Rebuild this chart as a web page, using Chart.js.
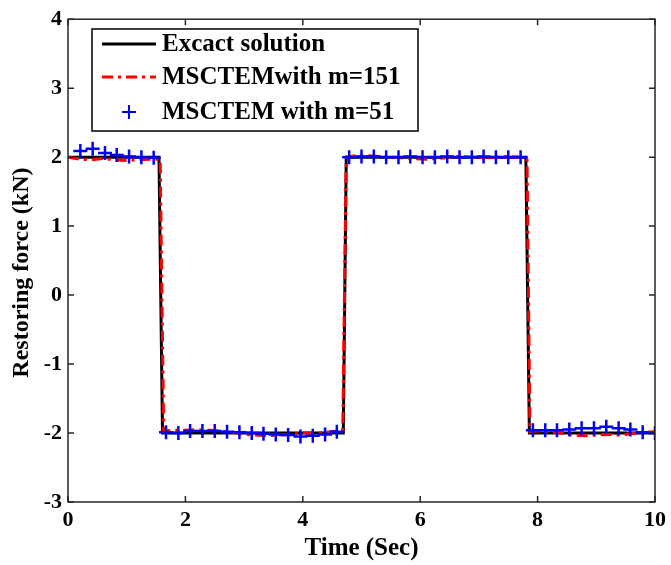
<!DOCTYPE html>
<html>
<head>
<meta charset="utf-8">
<script src="https://cdn.jsdelivr.net/npm/chart.js@4"></script>
<style>
  body { margin: 0; background: #fff; }
  #wrap { width: 671px; height: 565px; }
</style>
</head>
<body>
<div id="wrap"><canvas id="forceChart" width="671" height="565"></canvas></div>
<script>
// exact solution (square wave)
const exactTime = [0, 1.55, 1.61, 4.69, 4.74, 7.80, 7.86, 10];
const exactForce = [2, 2, -2, -2, 2, 2, -2, -2];

// MSCTEM m=151 (dash-dot red)
const redTime = [0, 0.2, 0.4, 0.6, 0.8, 1.0, 1.2, 1.4, 1.57, 1.63, 1.8, 2.0, 2.2, 2.4, 2.6, 2.8, 3.0, 3.2, 3.4, 3.6, 3.8, 4.0, 4.2, 4.4, 4.6, 4.68, 4.74,
  4.9, 5.1, 5.3, 5.5, 5.7, 5.9, 6.1, 6.3, 6.5, 6.7, 6.9, 7.1, 7.3, 7.5, 7.7, 7.82, 7.87, 8.0, 8.2, 8.4, 8.6, 8.8, 9.0, 9.2, 9.4, 9.6, 9.8, 10];
const redForce = [2.0, 1.97, 1.96, 1.98, 1.96, 1.95, 1.96, 1.97, 1.97, -1.97, -1.96, -1.96, -1.95, -1.96, -1.97, -1.99, -2.02, -2.03, -2.04, -2.03, -2.02, -2.0, -2.0, -1.99, -1.97, -1.97, 2.0,
  2.02, 2.02, 2.01, 2.0, 1.99, 1.98, 1.97, 1.98, 2.0, 2.01, 2.0, 1.99, 2.0, 2.01, 2.0, 1.99, -1.98, -1.97, -1.98, -2.0, -2.03, -2.04, -2.03, -2.02, -2.03, -2.01, -1.99, -1.98];

// MSCTEM m=51 (blue plus markers)
const blueTime = [0.21, 0.42, 0.63, 0.83, 1.04, 1.25, 1.46, 1.67, 1.88, 2.08, 2.29, 2.5, 2.71, 2.92, 3.13, 3.33, 3.54, 3.75, 3.96, 4.17, 4.38, 4.58,
  4.79, 5.0, 5.21, 5.42, 5.63, 5.83, 6.04, 6.25, 6.46, 6.67, 6.88, 7.08, 7.29, 7.5, 7.71,
  7.92, 8.13, 8.33, 8.54, 8.75, 8.96, 9.17, 9.38, 9.58, 9.79, 10.0];
const blueForce = [2.09, 2.12, 2.06, 2.03, 2.01, 2.0, 1.99, -1.99, -2.0, -1.97, -1.97, -1.97, -1.98, -1.99, -2.0, -2.01, -2.02, -2.03, -2.05, -2.04, -2.02, -1.98,
  2.0, 2.01, 2.01, 2.0, 2.0, 2.01, 2.0, 2.0, 2.01, 2.0, 2.0, 2.01, 2.0, 2.0, 2.0,
  -1.96, -1.96, -1.96, -1.95, -1.93, -1.93, -1.91, -1.93, -1.95, -1.99, -2.0];

const xTicks = [0, 2, 4, 6, 8, 10];
const yTicks = [-3, -2, -1, 0, 1, 2, 3, 4];

const pts = (xs, ys) => xs.map((v, i) => ({ x: v, y: ys[i] }));
const FONT = 'Liberation Serif, Times New Roman, serif';
Chart.defaults.font.family = FONT;
Chart.defaults.color = '#000';

// MATLAB-like box, inward ticks and the legend inside the axes
const matlabBox = {
  id: 'matlabBox',
  afterDatasetsDraw(chart) {
    const { ctx, chartArea: a, scales: { x, y } } = chart;
    ctx.save();
    ctx.strokeStyle = '#262626';
    ctx.lineWidth = 1.5;
    ctx.strokeRect(a.left, a.top, a.right - a.left, a.bottom - a.top);
    ctx.beginPath();
    xTicks.forEach(v => {
      const px = x.getPixelForValue(v);
      ctx.moveTo(px, a.bottom); ctx.lineTo(px, a.bottom - 6);
      ctx.moveTo(px, a.top); ctx.lineTo(px, a.top + 6);
    });
    yTicks.forEach(v => {
      const py = y.getPixelForValue(v);
      ctx.moveTo(a.left, py); ctx.lineTo(a.left + 6, py);
      ctx.moveTo(a.right, py); ctx.lineTo(a.right - 6, py);
    });
    ctx.stroke();

    // legend
    const lx = 92, ly = 29, lw = 326, lh = 102;
    ctx.fillStyle = '#fff';
    ctx.fillRect(lx, ly, lw, lh);
    ctx.strokeStyle = '#000';
    ctx.lineWidth = 1.5;
    ctx.strokeRect(lx, ly, lw, lh);
    const rows = [44, 77, 112];
    const ds = chart.data.datasets;
    ctx.font = 'bold 25px ' + FONT;
    ctx.textBaseline = 'middle';
    ds.forEach((d, i) => {
      const ry = rows[i];
      ctx.save();
      if (d.showLine === false) {
        ctx.strokeStyle = d.borderColor;
        ctx.lineWidth = 2;
        ctx.beginPath();
        ctx.moveTo(122, ry); ctx.lineTo(136, ry);
        ctx.moveTo(129, ry - 7); ctx.lineTo(129, ry + 7);
        ctx.stroke();
      } else {
        ctx.strokeStyle = d.borderColor;
        ctx.lineWidth = d.borderWidth;
        ctx.setLineDash(d.borderDash || []);
        ctx.beginPath();
        ctx.moveTo(102, ry); ctx.lineTo(156, ry);
        ctx.stroke();
      }
      ctx.restore();
      ctx.fillStyle = '#000';
      ctx.fillText(d.label, 162, ry + 1);
    });
    ctx.restore();
  }
};

new Chart(document.getElementById('forceChart'), {
  type: 'line',
  data: {
    datasets: [
      {
        label: 'Excact solution',
        data: pts(exactTime, exactForce),
        borderColor: '#000',
        borderWidth: 3,
        pointRadius: 0,
        order: 3
      },
      {
        label: 'MSCTEMwith m=151',
        data: pts(redTime, redForce),
        borderColor: '#ff0000',
        borderWidth: 3,
        borderDash: [11, 5, 3, 5],
        pointRadius: 0,
        order: 2
      },
      {
        label: 'MSCTEM with m=51',
        data: pts(blueTime, blueForce),
        borderColor: '#0000ff',
        backgroundColor: '#0000ff',
        showLine: false,
        pointStyle: 'cross',
        pointRadius: 7,
        pointBorderWidth: 2.5,
        order: 1
      }
    ]
  },
  options: {
    responsive: false,
    animation: false,
    layout: { padding: { top: 16, right: 12, left: 0, bottom: 0 } },
    plugins: { legend: { display: false }, tooltip: { enabled: false } },
    scales: {
      x: {
        type: 'linear',
        min: 0, max: 10,
        grid: { display: false, drawTicks: false },
        border: { display: false },
        ticks: { stepSize: 2, padding: 5, font: { size: 22, weight: 'bold' }, color: '#000', maxRotation: 0 },
        title: { display: true, text: 'Time (Sec)', font: { size: 25, weight: 'bold' }, color: '#000', padding: { top: 0, bottom: 1 } },
        afterFit(scale) { scale.height = 63; }
      },
      y: {
        min: -3, max: 4,
        grid: { display: false, drawTicks: false },
        border: { display: false },
        ticks: { stepSize: 1, padding: 6, font: { size: 22, weight: 'bold' }, color: '#000' },
        title: { display: true, text: 'Restoring force (kN)    ', font: { size: 24, weight: 'bold' }, color: '#000', padding: { top: 7, bottom: 0 } },
        afterFit(scale) { scale.width = 68; }
      }
    }
  },
  plugins: [matlabBox]
});
</script>
</body>
</html>
